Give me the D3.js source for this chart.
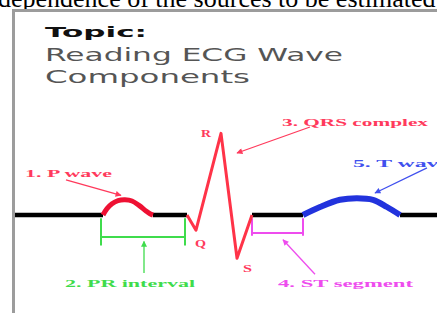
<!DOCTYPE html>
<html>
<head>
<meta charset="utf-8">
<script src="https://cdn.jsdelivr.net/npm/d3@7"></script>
<style>
  html, body { margin: 0; padding: 0; background: #fff; overflow: hidden; }
  svg { display: block; }
</style>
</head>
<body>
<svg id="chart" width="437" height="313"></svg>
<script>
// ECG trace, time units (t) vs amplitude (mV)
var baseStart = [[0, 0], [176, 0]];
var pWave = [[176, 0], [184, 0.08], [194, 0.14], [206, 0.18], [220, 0.19], [234, 0.175], [248, 0.12], [262, 0.05], [270, 0.015], [276, 0]];
var prSegment = [[276, 0], [344, 0]];
var qrsComplex = [[344, 0], [362, -0.19], [412, 1.02], [444, -0.54], [474, 0]];
var stSegment = [[474, 0], [576, 0]];
var tWave = [[576, 0], [610, 0.1], [650, 0.19], [684, 0.21], [716, 0.19], [744, 0.1], [770, 0]];
var baseEnd = [[770, 0], [844, 0]];

var titleLines = ["Topic:", "Reading ECG Wave", "Components"];
var headerText = "dependence of the sources to be estimated";

// interval brackets: [from t, to t]
var prInterval = [172, 340];
var stInterval = [474, 576];

// annotation labels
var labels = [
    {text: "1. P wave", t: 20, a: 0.475, w: 87, color: "#ff3a5c"},
    {text: "2. PR interval", t: 100, a: -0.9, w: 130, color: "#3fdc4c"},
    {text: "3. QRS complex", t: 534, a: 1.11, w: 146, color: "#ff3a5c"},
    {text: "4. ST segment", t: 526, a: -0.9, w: 135, color: "#ee4cee"},
    {text: "5. T wave", t: 676, a: 0.6, w: 96, color: "#4050ee"},
    {text: "R", t: 372, a: 0.975, w: 10, color: "#ff3a5c"},
    {text: "Q", t: 360, a: -0.4, w: 11, color: "#ff3a5c"},
    {text: "S", t: 456, a: -0.7125, w: 9, color: "#ff3a5c"}
];

// arrows: from [t, a] to [t, a]
var arrows = [
    {from: [102, 0.44], to: [212, 0.245], color: "#ff3a5c"},
    {from: [258, -0.725], to: [258, -0.33], color: "#3fdc4c"},
    {from: [590, 1.1], to: [444, 0.775], color: "#ff3a5c"},
    {from: [600, -0.74], to: [536, -0.31], color: "#ee4cee"},
    {from: [824, 0.59], to: [720, 0.275], color: "#4050ee"}
];

var svg = d3.select("#chart");
var width = 437, height = 313;

var x = d3.scaleLinear().domain([0, 844]).range([15, 437]);
var y = d3.scaleLinear().domain([0, 1]).range([215, 135]);

// page text above the frame
svg.append("text")
    .attr("x", -2).attr("y", 7)
    .attr("font-family", "Liberation Serif, Times New Roman, serif")
    .attr("font-size", 26)
    .attr("fill", "#000")
    .text(headerText);

// frame
svg.append("rect")
    .attr("x", 13.5).attr("y", 10.5)
    .attr("width", 500).attr("height", 400)
    .attr("fill", "#fff")
    .attr("stroke", "#9c9c9c")
    .attr("stroke-width", 3);

// title
var titleStyle = [
    {y: 37, size: 14, weight: "bold", fill: "#111", w: 102},
    {y: 61, size: 18, weight: "normal", fill: "#555", w: 298},
    {y: 83, size: 18, weight: "normal", fill: "#555", w: 205}
];
titleLines.forEach(function (line, i) {
    var s = titleStyle[i];
    svg.append("text")
        .attr("x", 45).attr("y", s.y)
        .attr("font-family", "DejaVu Sans, Verdana, sans-serif")
        .attr("font-size", s.size)
        .attr("font-weight", s.weight)
        .attr("fill", s.fill)
        .attr("textLength", s.w)
        .attr("lengthAdjust", "spacingAndGlyphs")
        .text(line);
});

// arrow markers
var defs = svg.append("defs");
arrows.forEach(function (ar, i) {
    defs.append("marker")
        .attr("id", "head" + i)
        .attr("viewBox", "0 0 10 10")
        .attr("refX", 9).attr("refY", 5)
        .attr("markerWidth", 7).attr("markerHeight", 6)
        .attr("markerUnits", "userSpaceOnUse")
        .attr("orient", "auto")
        .append("path")
        .attr("d", "M0,0L10,5L0,10Z")
        .attr("fill", ar.color);
});

var lineLinear = d3.line().x(function (d) { return x(d[0]); }).y(function (d) { return y(d[1]); });
var lineSmooth = d3.line().curve(d3.curveCatmullRom.alpha(0.5))
    .x(function (d) { return x(d[0]); }).y(function (d) { return y(d[1]); });

// brackets
function bracket(iv, yMid, yBot, color) {
    var g = svg.append("g").attr("stroke", color).attr("stroke-width", 2).attr("fill", "none");
    g.append("line").attr("x1", x(iv[0])).attr("x2", x(iv[0])).attr("y1", y(-0.04)).attr("y2", y(yBot));
    g.append("line").attr("x1", x(iv[1])).attr("x2", x(iv[1])).attr("y1", y(-0.04)).attr("y2", y(yBot));
    g.append("line").attr("x1", x(iv[0])).attr("x2", x(iv[1])).attr("y1", y(yMid)).attr("y2", y(yMid));
}
bracket(prInterval, -0.275, -0.38, "#3fdc4c");
bracket(stInterval, -0.225, -0.26, "#ee4cee");

// trace
var segs = [
    {d: baseStart, color: "#000", w: 4.5, smooth: false},
    {d: prSegment, color: "#000", w: 4.5, smooth: false},
    {d: stSegment, color: "#000", w: 4.5, smooth: false},
    {d: baseEnd, color: "#000", w: 4.5, smooth: false},
    {d: pWave, color: "#ee1133", w: 5, smooth: true},
    {d: qrsComplex, color: "#ff3348", w: 3, smooth: false},
    {d: tWave, color: "#2233dd", w: 6, smooth: true}
];
svg.selectAll("path.seg")
    .data(segs)
    .enter().append("path")
    .attr("class", "seg")
    .attr("d", function (s) { return (s.smooth ? lineSmooth : lineLinear)(s.d); })
    .attr("fill", "none")
    .attr("stroke", function (s) { return s.color; })
    .attr("stroke-width", function (s) { return s.w; })
    .attr("stroke-linejoin", "round");

// arrows
svg.selectAll("line.arrow")
    .data(arrows)
    .enter().append("line")
    .attr("class", "arrow")
    .attr("x1", function (d) { return x(d.from[0]); })
    .attr("y1", function (d) { return y(d.from[1]); })
    .attr("x2", function (d) { return x(d.to[0]); })
    .attr("y2", function (d) { return y(d.to[1]); })
    .attr("stroke", function (d) { return d.color; })
    .attr("stroke-width", 1.3)
    .attr("marker-end", function (d, i) { return "url(#head" + i + ")"; });

// labels
svg.selectAll("text.label")
    .data(labels)
    .enter().append("text")
    .attr("class", "label")
    .attr("x", function (d) { return x(d.t); })
    .attr("y", function (d) { return y(d.a); })
    .attr("font-family", "Liberation Serif, Times New Roman, serif")
    .attr("font-weight", "bold")
    .attr("font-size", 11)
    .attr("fill", function (d) { return d.color; })
    .attr("textLength", function (d) { return d.w; })
    .attr("lengthAdjust", "spacingAndGlyphs")
    .text(function (d) { return d.text; });
</script>
</body>
</html>
